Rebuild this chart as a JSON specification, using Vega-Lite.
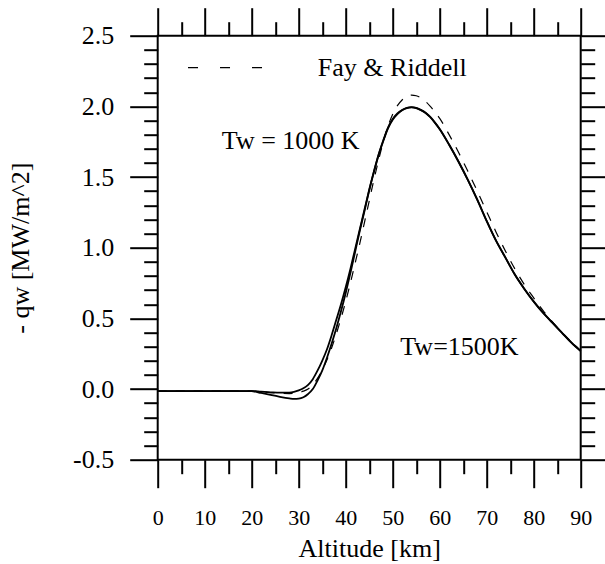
{
  "$schema": "https://vega.github.io/schema/vega-lite/v6.json",
  "width": 423,
  "height": 424,
  "autosize": {"type": "none"},
  "padding": {"left": 157.7, "top": 35.7, "right": 24.3, "bottom": 104.3},
  "background": "white",
  "config": {
    "view": {"stroke": "black", "strokeWidth": 2},
    "font": "Liberation Serif"
  },
  "datasets": {
    "tw1000": [
      {"alt": 0, "qw": -0.015}, {"alt": 5, "qw": -0.015}, {"alt": 10, "qw": -0.015}, {"alt": 15, "qw": -0.015}, {"alt": 20, "qw": -0.015},
      {"alt": 22, "qw": -0.019}, {"alt": 24, "qw": -0.023}, {"alt": 26, "qw": -0.026}, {"alt": 28, "qw": -0.025}, {"alt": 29, "qw": -0.02},
      {"alt": 30, "qw": -0.01}, {"alt": 31, "qw": 0.005}, {"alt": 32, "qw": 0.03}, {"alt": 33, "qw": 0.07}, {"alt": 34, "qw": 0.13},
      {"alt": 35, "qw": 0.2}, {"alt": 36, "qw": 0.28}, {"alt": 37, "qw": 0.38}, {"alt": 38, "qw": 0.49}, {"alt": 39, "qw": 0.6},
      {"alt": 40, "qw": 0.72}, {"alt": 41, "qw": 0.85}, {"alt": 42, "qw": 0.99}, {"alt": 43, "qw": 1.13}, {"alt": 44, "qw": 1.27},
      {"alt": 45, "qw": 1.41}, {"alt": 46, "qw": 1.54}, {"alt": 47, "qw": 1.66}, {"alt": 48, "qw": 1.76}, {"alt": 49, "qw": 1.85},
      {"alt": 50, "qw": 1.91}, {"alt": 51, "qw": 1.95}, {"alt": 52, "qw": 1.975}, {"alt": 53, "qw": 1.99}, {"alt": 54, "qw": 1.995},
      {"alt": 55, "qw": 1.99}, {"alt": 56, "qw": 1.975}, {"alt": 57, "qw": 1.955}, {"alt": 58, "qw": 1.925}, {"alt": 59, "qw": 1.885},
      {"alt": 60, "qw": 1.84}, {"alt": 62, "qw": 1.73}, {"alt": 64, "qw": 1.61}, {"alt": 66, "qw": 1.48}, {"alt": 68, "qw": 1.34},
      {"alt": 70, "qw": 1.19}, {"alt": 72, "qw": 1.05}, {"alt": 74, "qw": 0.93}, {"alt": 76, "qw": 0.81}, {"alt": 78, "qw": 0.71},
      {"alt": 80, "qw": 0.62}, {"alt": 82, "qw": 0.54}, {"alt": 84, "qw": 0.47}, {"alt": 86, "qw": 0.4}, {"alt": 88, "qw": 0.33},
      {"alt": 90, "qw": 0.27}
    ],
    "tw1500": [
      {"alt": 0, "qw": -0.015}, {"alt": 5, "qw": -0.015}, {"alt": 10, "qw": -0.015}, {"alt": 15, "qw": -0.015}, {"alt": 20, "qw": -0.015},
      {"alt": 22, "qw": -0.028}, {"alt": 24, "qw": -0.042}, {"alt": 26, "qw": -0.055}, {"alt": 28, "qw": -0.066}, {"alt": 29, "qw": -0.07},
      {"alt": 30, "qw": -0.068}, {"alt": 31, "qw": -0.058}, {"alt": 32, "qw": -0.035}, {"alt": 33, "qw": 0.0}, {"alt": 34, "qw": 0.06},
      {"alt": 35, "qw": 0.13}, {"alt": 36, "qw": 0.22}, {"alt": 37, "qw": 0.32}, {"alt": 38, "qw": 0.43}, {"alt": 39, "qw": 0.55},
      {"alt": 40, "qw": 0.68}, {"alt": 41, "qw": 0.82}, {"alt": 42, "qw": 0.97}, {"alt": 43, "qw": 1.12}, {"alt": 44, "qw": 1.26},
      {"alt": 45, "qw": 1.405}, {"alt": 46, "qw": 1.535}, {"alt": 47, "qw": 1.655}, {"alt": 48, "qw": 1.755}, {"alt": 49, "qw": 1.845},
      {"alt": 50, "qw": 1.905}, {"alt": 51, "qw": 1.945}, {"alt": 52, "qw": 1.972}, {"alt": 53, "qw": 1.988}, {"alt": 54, "qw": 1.993},
      {"alt": 55, "qw": 1.988}, {"alt": 56, "qw": 1.973}, {"alt": 57, "qw": 1.953}, {"alt": 58, "qw": 1.923}, {"alt": 59, "qw": 1.883},
      {"alt": 60, "qw": 1.838}, {"alt": 62, "qw": 1.728}, {"alt": 64, "qw": 1.608}, {"alt": 66, "qw": 1.478}, {"alt": 68, "qw": 1.338},
      {"alt": 70, "qw": 1.188}, {"alt": 72, "qw": 1.048}, {"alt": 74, "qw": 0.928}, {"alt": 76, "qw": 0.808}, {"alt": 78, "qw": 0.708},
      {"alt": 80, "qw": 0.618}, {"alt": 82, "qw": 0.538}, {"alt": 84, "qw": 0.468}, {"alt": 86, "qw": 0.398}, {"alt": 88, "qw": 0.328},
      {"alt": 90, "qw": 0.268}
    ],
    "fay": [
      {"alt": 0, "qw": -0.015}, {"alt": 5, "qw": -0.015}, {"alt": 10, "qw": -0.015}, {"alt": 15, "qw": -0.015}, {"alt": 20, "qw": -0.015},
      {"alt": 22, "qw": -0.02}, {"alt": 24, "qw": -0.025}, {"alt": 26, "qw": -0.03}, {"alt": 28, "qw": -0.032}, {"alt": 30, "qw": -0.025},
      {"alt": 31, "qw": -0.015}, {"alt": 32, "qw": 0.0}, {"alt": 33, "qw": 0.03}, {"alt": 34, "qw": 0.075}, {"alt": 35, "qw": 0.135},
      {"alt": 36, "qw": 0.205}, {"alt": 37, "qw": 0.29}, {"alt": 38, "qw": 0.39}, {"alt": 39, "qw": 0.5}, {"alt": 40, "qw": 0.62},
      {"alt": 41, "qw": 0.75}, {"alt": 42, "qw": 0.89}, {"alt": 43, "qw": 1.03}, {"alt": 44, "qw": 1.18}, {"alt": 45, "qw": 1.33},
      {"alt": 46, "qw": 1.48}, {"alt": 47, "qw": 1.62}, {"alt": 48, "qw": 1.75}, {"alt": 49, "qw": 1.86}, {"alt": 50, "qw": 1.945},
      {"alt": 51, "qw": 2.005}, {"alt": 52, "qw": 2.045}, {"alt": 53, "qw": 2.07}, {"alt": 54, "qw": 2.08}, {"alt": 55, "qw": 2.075},
      {"alt": 56, "qw": 2.06}, {"alt": 57, "qw": 2.035}, {"alt": 58, "qw": 2.0}, {"alt": 59, "qw": 1.96}, {"alt": 60, "qw": 1.915},
      {"alt": 62, "qw": 1.8}, {"alt": 64, "qw": 1.675}, {"alt": 66, "qw": 1.54}, {"alt": 68, "qw": 1.4}, {"alt": 70, "qw": 1.255},
      {"alt": 72, "qw": 1.11}, {"alt": 74, "qw": 0.975}, {"alt": 76, "qw": 0.85}, {"alt": 78, "qw": 0.74}, {"alt": 80, "qw": 0.645},
      {"alt": 82, "qw": 0.555}, {"alt": 84, "qw": 0.475}, {"alt": 86, "qw": 0.4}, {"alt": 88, "qw": 0.335}, {"alt": 90, "qw": 0.27}
    ],
    "legendDash": [
      {"alt": 6.45, "qw": 2.274}, {"alt": 22.2, "qw": 2.274}
    ],
    "labels": [
      {"alt": 49.9, "qw": 2.274, "text": "Fay & Riddell"},
      {"alt": 28.3, "qw": 1.755, "text": "Tw = 1000 K"},
      {"alt": 64.2, "qw": 0.295, "text": "Tw=1500K"}
    ]
  },
  "resolve": {"axis": {"x": "independent", "y": "independent"}},
  "layer": [
    {
      "data": {"name": "tw1000"},
      "mark": {"type": "line", "color": "black", "strokeWidth": 1.8, "interpolate": "monotone"},
      "encoding": {
        "x": {
          "field": "alt", "type": "quantitative",
          "scale": {"domain": [0, 90], "nice": false, "zero": false},
          "axis": {
            "orient": "bottom",
            "values": [0, 5, 10, 15, 20, 25, 30, 35, 40, 45, 50, 55, 60, 65, 70, 75, 80, 85, 90],
            "domain": false, "grid": false,
            "tickColor": "black", "tickWidth": 2,
            "tickSize": {"condition": {"test": "datum.value % 10 === 0", "value": 28}, "value": 14},
            "labelExpr": "datum.value % 10 === 0 ? datum.label : ''",
            "labelFont": "Liberation Serif", "labelFontSize": 22, "labelColor": "black",
            "labelPadding": 20, "labelFlush": false, "labelOverlap": false,
            "title": "Altitude [km]", "titleFont": "Liberation Serif", "titleFontSize": 26,
            "titleFontWeight": "normal", "titleColor": "black",
            "titleY": 89, "titleBaseline": "middle"
          }
        },
        "y": {
          "field": "qw", "type": "quantitative",
          "scale": {"domain": [-0.5, 2.5], "nice": false, "zero": false},
          "axis": {
            "orient": "left",
            "values": [-0.5, -0.4, -0.3, -0.2, -0.1, 0, 0.1, 0.2, 0.3, 0.4, 0.5, 0.6, 0.7, 0.8, 0.9, 1.0, 1.1, 1.2, 1.3, 1.4, 1.5, 1.6, 1.7, 1.8, 1.9, 2.0, 2.1, 2.2, 2.3, 2.4, 2.5],
            "domain": false, "grid": false,
            "tickColor": "black", "tickWidth": 2,
            "tickSize": {"condition": {"test": "abs(round(datum.value * 10)) % 5 === 0", "value": 28}, "value": 14},
            "labelExpr": "abs(round(datum.value * 10)) % 5 === 0 ? replace(format(datum.value, '.1f'), '\u2212', '-') : ''",
            "labelFont": "Liberation Serif", "labelFontSize": 26, "labelColor": "black",
            "labelPadding": 16, "labelFlush": false, "labelOverlap": false,
            "title": "- qw [MW/m^2]", "titleFont": "Liberation Serif", "titleFontSize": 26,
            "titleFontWeight": "normal", "titleColor": "black",
            "titleX": -137, "titleY": 212, "titleAngle": -90, "titleBaseline": "middle", "titleAlign": "center"
          }
        }
      }
    },
    {
      "data": {"name": "tw1500"},
      "mark": {"type": "line", "color": "black", "strokeWidth": 1.8, "interpolate": "monotone"},
      "encoding": {
        "x": {"field": "alt", "type": "quantitative", "axis": null},
        "y": {"field": "qw", "type": "quantitative", "axis": null}
      }
    },
    {
      "data": {"name": "fay"},
      "mark": {"type": "line", "color": "black", "strokeWidth": 1.2, "strokeDash": [9, 9], "interpolate": "monotone"},
      "encoding": {
        "x": {"field": "alt", "type": "quantitative", "axis": null},
        "y": {"field": "qw", "type": "quantitative", "axis": null}
      }
    },
    {
      "data": {"name": "legendDash"},
      "mark": {"type": "line", "color": "black", "strokeWidth": 1.3, "strokeDash": [10, 22], "strokeCap": "butt"},
      "encoding": {
        "x": {"field": "alt", "type": "quantitative", "axis": null},
        "y": {"field": "qw", "type": "quantitative", "axis": null}
      }
    },
    {
      "data": {"name": "labels"},
      "mark": {"type": "text", "color": "black", "font": "Liberation Serif", "fontSize": 26, "align": "center", "baseline": "middle"},
      "encoding": {
        "x": {
          "field": "alt", "type": "quantitative",
          "axis": {
            "orient": "top",
            "values": [0, 5, 10, 15, 20, 25, 30, 35, 40, 45, 50, 55, 60, 65, 70, 75, 80, 85, 90],
            "domain": false, "grid": false, "labels": false, "title": null,
            "tickColor": "black", "tickWidth": 2,
            "tickSize": {"condition": {"test": "datum.value % 10 === 0", "value": 28}, "value": 14}
          }
        },
        "y": {
          "field": "qw", "type": "quantitative",
          "axis": {
            "orient": "right",
            "values": [-0.5, -0.4, -0.3, -0.2, -0.1, 0, 0.1, 0.2, 0.3, 0.4, 0.5, 0.6, 0.7, 0.8, 0.9, 1.0, 1.1, 1.2, 1.3, 1.4, 1.5, 1.6, 1.7, 1.8, 1.9, 2.0, 2.1, 2.2, 2.3, 2.4, 2.5],
            "domain": false, "grid": false, "labels": false, "title": null,
            "tickColor": "black", "tickWidth": 2,
            "tickSize": {"condition": {"test": "abs(round(datum.value * 10)) % 5 === 0", "value": 28}, "value": 14}
          }
        },
        "text": {"field": "text", "type": "nominal"}
      }
    }
  ]
}
